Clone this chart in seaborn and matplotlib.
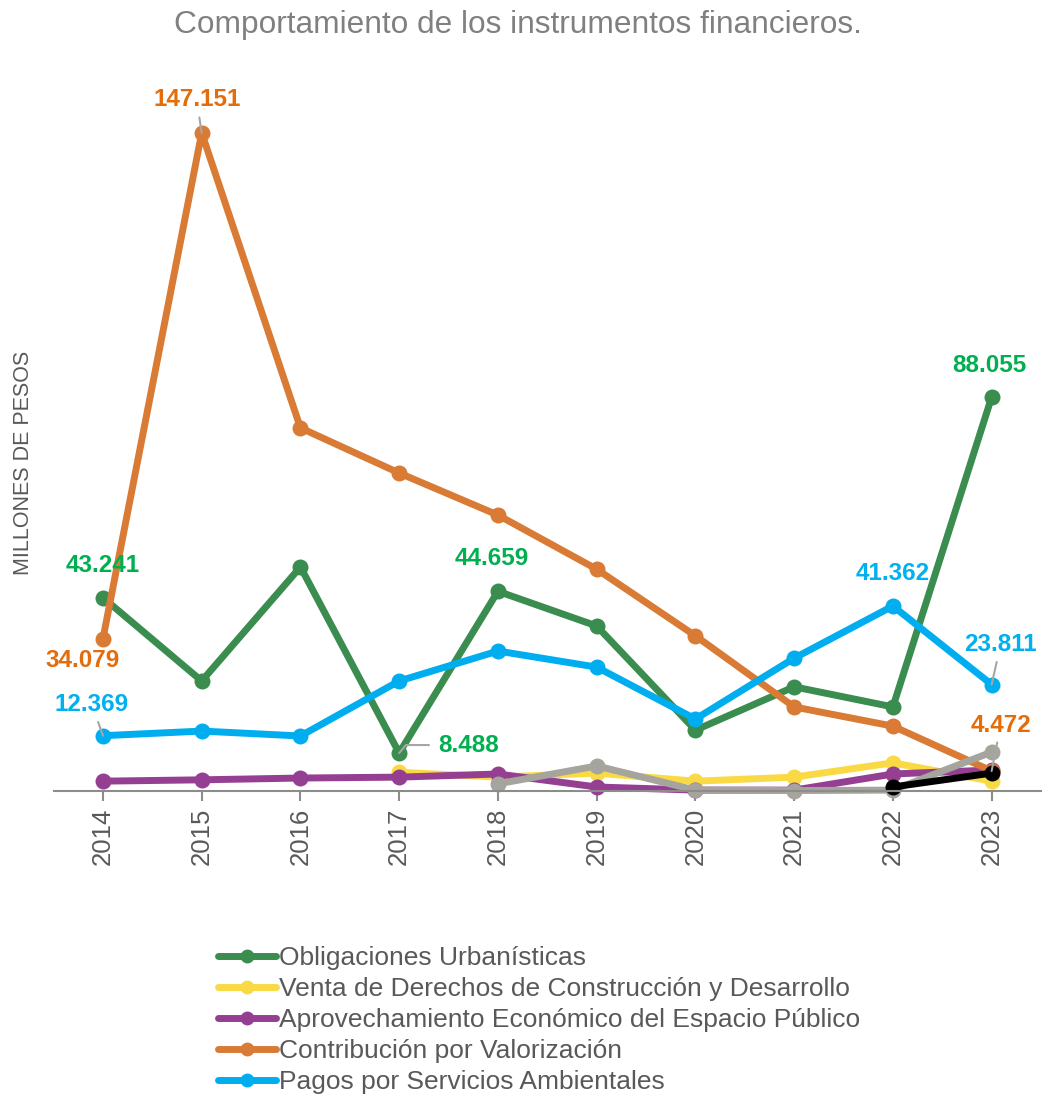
import matplotlib
matplotlib.use("Agg")
import matplotlib.pyplot as plt
from matplotlib.lines import Line2D
import seaborn as sns
import pandas as pd
import numpy as np

years = [2014, 2015, 2016, 2017, 2018, 2019, 2020, 2021, 2022, 2023]

obligaciones = [43.241, 24.6, 50.1, 8.488, 44.659, 36.9, 13.6, 23.3, 18.8, 88.055]
venta_years = [2017, 2018, 2019, 2020, 2021, 2022, 2023]
venta = [4.2, 3.1, 4.0, 2.2, 3.1, 6.3, 2.2]
aprovechamiento = [2.2, 2.5, 2.9, 3.1, 3.8, 0.9, 0.2, 0.2, 3.8, 4.7]
contribucion = [34.079, 147.151, 81.2, 71.1, 61.7, 49.6, 34.7, 18.8, 14.5, 4.472]
pagos = [12.369, 13.4, 12.3, 24.6, 31.3, 27.7, 16.1, 29.7, 41.362, 23.811]
otro_gris_years = [2018, 2019, 2020, 2021, 2022, 2023]
otro_gris = [1.6, 5.6, 0.2, 0.1, 0.2, 8.7]
otro_negro_years = [2022, 2023]
otro_negro = [0.9, 4.0]

names = ["Obligaciones Urbanísticas",
         "Venta de Derechos de Construcción y Desarrollo",
         "Aprovechamiento Económico del Espacio Público",
         "Contribución por Valorización",
         "Pagos por Servicios Ambientales",
         "Otro 1", "Otro 2"]
colors = ["#3A8C4F", "#F9DA45", "#953F92", "#D97B34", "#00AEEF", "#A5A59D", "#000000"]

series = [(years, obligaciones), (venta_years, venta), (years, aprovechamiento),
          (years, contribucion), (years, pagos), (otro_gris_years, otro_gris),
          (otro_negro_years, otro_negro)]

rows = []
for name, (xs, ys) in zip(names, series):
    for x, y in zip(xs, ys):
        rows.append({"year": x, "valor": y, "serie": name})
df = pd.DataFrame(rows)

palette = dict(zip(names, colors))

sns.set_style("white")
plt.rcParams['font.family'] = ['Liberation Sans', 'DejaVu Sans']

fig = plt.figure(figsize=(10.49, 10.97), dpi=100)
ax = fig.add_axes([53.6 / 1049, 1 - 791 / 1097, (1041 - 53.6) / 1049, (791 - 80) / 1097])

sns.lineplot(data=df, x="year", y="valor", hue="serie", hue_order=names,
             palette=palette, marker="o", markersize=11.5, markeredgewidth=0,
             linewidth=5, ax=ax, legend=False, clip_on=False)

ax.set_xlim(2013.5, 2023.5)
ax.set_ylim(0, (791 - 80) / 4.472)

for s in ["top", "right", "left"]:
    ax.spines[s].set_visible(False)
ax.spines["bottom"].set_color("#8C8C8C")
ax.spines["bottom"].set_linewidth(1.5)
ax.set_yticks([])
ax.set_xticks(years)
ax.set_xticklabels([str(y) for y in years], rotation=90, fontsize=18.5, color="#595959")
ax.tick_params(axis="x", direction="out", length=7, width=1.5, color="#8C8C8C", pad=5,
               bottom=True)
ax.set_xlabel("")
ax.set_ylabel("")
fig.text(24 / 1049, 1 - 463 / 1097, "MILLONES DE PESOS", rotation=90,
         ha="center", va="center", fontsize=15.5, color="#595959")

fig.text(0.494, 0.977, "Comportamiento de los instrumentos financieros.",
         ha="center", va="center", fontsize=22.8, color="#808080")

# data labels
lab_orange = "#E46C0A"
lab_green = "#00B050"
lab_blue = "#00B0F0"
labels = [
    (2015, contribucion[1], "147.151", lab_orange, (-5, 33), "straight"),
    (2014, obligaciones[0], "43.241", lab_green, (0, 32), None),
    (2014, contribucion[0], "34.079", lab_orange, (-20, -22), None),
    (2014, pagos[0], "12.369", lab_blue, (-11, 31), "straight"),
    (2017, obligaciones[3], "8.488", lab_green, (69, 8), "bent"),
    (2018, obligaciones[4], "44.659", lab_green, (-6, 33), None),
    (2022, pagos[8], "41.362", lab_blue, (0, 33), None),
    (2023, pagos[9], "23.811", lab_blue, (9, 40), "straight"),
    (2023, obligaciones[9], "88.055", lab_green, (-2, 32), None),
    (2023, contribucion[9], "4.472", lab_orange, (9, 46), "straight"),
]
for x, y, t, c, off, leader in labels:
    kw = {}
    if leader == "straight":
        kw["arrowprops"] = dict(arrowstyle="-", color="#A6A6A6", lw=1.5,
                                shrinkA=2, shrinkB=0)
    elif leader == "bent":
        kw["arrowprops"] = dict(arrowstyle="-", color="#A6A6A6", lw=1.5,
                                shrinkA=4, shrinkB=0,
                                connectionstyle="angle,angleA=0,angleB=50,rad=0")
    ax.annotate(t, xy=(x, y), xytext=off, textcoords="offset pixels",
                ha="center", va="center", fontsize=17.5, fontweight="bold",
                color=c, zorder=10, annotation_clip=False, **kw)

handles = [Line2D([0], [0], color=colors[i], lw=5, marker="o", markersize=10,
                  markeredgewidth=0) for i in range(5)]
fig.legend(handles, names[:5], loc="upper left", bbox_to_anchor=(218 / 1049, 1 - 946 / 1097),
           frameon=False, fontsize=19, labelcolor="#595959", handlelength=2.2,
           handletextpad=0.1, labelspacing=0.27, borderaxespad=0, borderpad=0)

fig.savefig("out.png", dpi=100)
